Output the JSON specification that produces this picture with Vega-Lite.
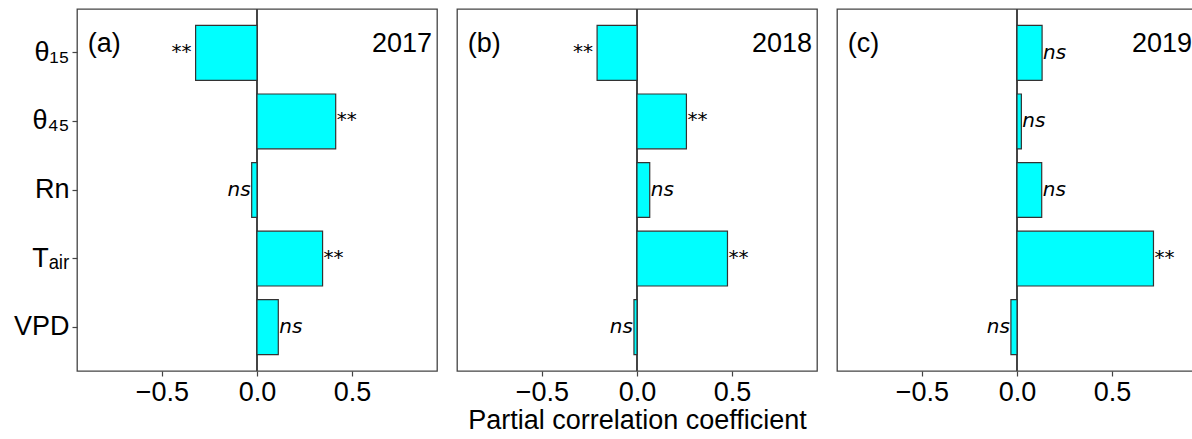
{
  "$schema": "https://vega.github.io/schema/vega-lite/v6.json",
  "padding": {"left": 12, "top": 7, "right": 0, "bottom": 0},
  "background": "white",
  "spacing": 18,
  "config": {
    "view": {"stroke": "#444", "strokeWidth": 1.3},
    "axis": {"labelFont": "Liberation Sans", "titleFont": "Liberation Sans", "labelColor": "black", "titleColor": "black", "titleFontWeight": "normal", "grid": false, "domain": false, "tickColor": "#444", "tickWidth": 1.2},
    "axisX": {"format": ".1f", "labelFontSize": 27, "tickSize": 5, "labelPadding": 3, "titleFontSize": 27, "titlePadding": 2},
    "axisY": {"labelFontSize": 27, "tickSize": 5, "labelPadding": 3},
    "text": {"color": "black"}
  },
  "datasets": {
    "bars": [
      {"year": "2017", "var": "θ₁₅", "value": -0.323, "sig": "**"},
      {"year": "2017", "var": "θ₄₅", "value": 0.414, "sig": "**"},
      {"year": "2017", "var": "Rn", "value": -0.028, "sig": "ns"},
      {"year": "2017", "var": "Tₐᵢᵣ", "value": 0.345, "sig": "**"},
      {"year": "2017", "var": "VPD", "value": 0.112, "sig": "ns"},
      {"year": "2018", "var": "θ₁₅", "value": -0.21, "sig": "**"},
      {"year": "2018", "var": "θ₄₅", "value": 0.26, "sig": "**"},
      {"year": "2018", "var": "Rn", "value": 0.067, "sig": "ns"},
      {"year": "2018", "var": "Tₐᵢᵣ", "value": 0.476, "sig": "**"},
      {"year": "2018", "var": "VPD", "value": -0.016, "sig": "ns"},
      {"year": "2019", "var": "θ₁₅", "value": 0.132, "sig": "ns"},
      {"year": "2019", "var": "θ₄₅", "value": 0.023, "sig": "ns"},
      {"year": "2019", "var": "Rn", "value": 0.13, "sig": "ns"},
      {"year": "2019", "var": "Tₐᵢᵣ", "value": 0.718, "sig": "**"},
      {"year": "2019", "var": "VPD", "value": -0.032, "sig": "ns"}
    ],
    "labels": [
      {"year": "2017", "letter": "(a)"},
      {"year": "2018", "letter": "(b)"},
      {"year": "2019", "letter": "(c)"}
    ]
  },
  "hconcat": [
    {
      "width": 360, "height": 362,
      "data": {"name": "bars"},
      "transform": [{"filter": "datum.year === '2017'"}],
      "encoding": {
        "x": {"type": "quantitative", "scale": {"domain": [-0.947, 0.947], "nice": false, "zero": false}, "axis": {"values": [-0.5, 0, 0.5]}, "title": null},
        "y": {"type": "nominal", "sort": ["θ₁₅", "θ₄₅", "Rn", "Tₐᵢᵣ", "VPD"], "scale": {"paddingInner": 0.2, "paddingOuter": 0.24}, "title": null}
      },
      "layer": [
        {"mark": {"type": "rule", "color": "#444", "strokeWidth": 1.2}, "encoding": {"x": {"datum": 0}}},
        {"mark": {"type": "bar", "fill": "#00FFFF", "stroke": "#333", "strokeWidth": 1.2}, "encoding": {"x": {"field": "value"}, "y": {"field": "var"}}},
        {"transform": [{"filter": "datum.value >= 0 && datum.sig === 'ns'"}], "mark": {"type": "text", "align": "left", "baseline": "middle", "dx": 1, "font": "DejaVu Sans", "fontStyle": "italic", "fontSize": 20}, "encoding": {"x": {"field": "value"}, "y": {"field": "var"}, "text": {"field": "sig"}}},
        {"transform": [{"filter": "datum.value >= 0 && datum.sig === '**'"}], "mark": {"type": "text", "align": "left", "baseline": "middle", "dx": 1, "dy": -1, "font": "DejaVu Sans", "fontSize": 20}, "encoding": {"x": {"field": "value"}, "y": {"field": "var"}, "text": {"field": "sig"}}},
        {"transform": [{"filter": "datum.value < 0 && datum.sig === 'ns'"}], "mark": {"type": "text", "align": "right", "baseline": "middle", "dx": -1, "font": "DejaVu Sans", "fontStyle": "italic", "fontSize": 20}, "encoding": {"x": {"field": "value"}, "y": {"field": "var"}, "text": {"field": "sig"}}},
        {"transform": [{"filter": "datum.value < 0 && datum.sig === '**'"}], "mark": {"type": "text", "align": "right", "baseline": "middle", "dx": -4, "dy": -1, "font": "DejaVu Sans", "fontSize": 20}, "encoding": {"x": {"field": "value"}, "y": {"field": "var"}, "text": {"field": "sig"}}},
        {"data": {"name": "labels"}, "transform": [{"filter": "datum.year === '2017'"}], "mark": {"type": "text", "align": "left", "baseline": "middle", "dy": -9, "font": "Liberation Sans", "fontSize": 27}, "encoding": {"x": {"datum": -0.89}, "y": {"datum": "θ₁₅"}, "text": {"field": "letter"}}},
        {"data": {"name": "labels"}, "transform": [{"filter": "datum.year === '2017'"}], "mark": {"type": "text", "align": "right", "baseline": "middle", "dx": -5, "dy": -9, "font": "Liberation Sans", "fontSize": 27}, "encoding": {"x": {"datum": 0.947}, "y": {"datum": "θ₁₅"}, "text": {"field": "year"}}}
      ]
    },
    {
      "width": 360, "height": 362,
      "data": {"name": "bars"},
      "transform": [{"filter": "datum.year === '2018'"}],
      "encoding": {
        "x": {"type": "quantitative", "scale": {"domain": [-0.947, 0.947], "nice": false, "zero": false}, "axis": {"values": [-0.5, 0, 0.5]}, "title": "Partial correlation coefficient"},
        "y": {"type": "nominal", "sort": ["θ₁₅", "θ₄₅", "Rn", "Tₐᵢᵣ", "VPD"], "scale": {"paddingInner": 0.2, "paddingOuter": 0.24}, "axis": null}
      },
      "layer": [
        {"mark": {"type": "rule", "color": "#444", "strokeWidth": 1.2}, "encoding": {"x": {"datum": 0}}},
        {"mark": {"type": "bar", "fill": "#00FFFF", "stroke": "#333", "strokeWidth": 1.2}, "encoding": {"x": {"field": "value"}, "y": {"field": "var"}}},
        {"transform": [{"filter": "datum.value >= 0 && datum.sig === 'ns'"}], "mark": {"type": "text", "align": "left", "baseline": "middle", "dx": 1, "font": "DejaVu Sans", "fontStyle": "italic", "fontSize": 20}, "encoding": {"x": {"field": "value"}, "y": {"field": "var"}, "text": {"field": "sig"}}},
        {"transform": [{"filter": "datum.value >= 0 && datum.sig === '**'"}], "mark": {"type": "text", "align": "left", "baseline": "middle", "dx": 1, "dy": -1, "font": "DejaVu Sans", "fontSize": 20}, "encoding": {"x": {"field": "value"}, "y": {"field": "var"}, "text": {"field": "sig"}}},
        {"transform": [{"filter": "datum.value < 0 && datum.sig === 'ns'"}], "mark": {"type": "text", "align": "right", "baseline": "middle", "dx": -1, "font": "DejaVu Sans", "fontStyle": "italic", "fontSize": 20}, "encoding": {"x": {"field": "value"}, "y": {"field": "var"}, "text": {"field": "sig"}}},
        {"transform": [{"filter": "datum.value < 0 && datum.sig === '**'"}], "mark": {"type": "text", "align": "right", "baseline": "middle", "dx": -4, "dy": -1, "font": "DejaVu Sans", "fontSize": 20}, "encoding": {"x": {"field": "value"}, "y": {"field": "var"}, "text": {"field": "sig"}}},
        {"data": {"name": "labels"}, "transform": [{"filter": "datum.year === '2018'"}], "mark": {"type": "text", "align": "left", "baseline": "middle", "dy": -9, "font": "Liberation Sans", "fontSize": 27}, "encoding": {"x": {"datum": -0.89}, "y": {"datum": "θ₁₅"}, "text": {"field": "letter"}}},
        {"data": {"name": "labels"}, "transform": [{"filter": "datum.year === '2018'"}], "mark": {"type": "text", "align": "right", "baseline": "middle", "dx": -5, "dy": -9, "font": "Liberation Sans", "fontSize": 27}, "encoding": {"x": {"datum": 0.947}, "y": {"datum": "θ₁₅"}, "text": {"field": "year"}}}
      ]
    },
    {
      "width": 360, "height": 362,
      "data": {"name": "bars"},
      "transform": [{"filter": "datum.year === '2019'"}],
      "encoding": {
        "x": {"type": "quantitative", "scale": {"domain": [-0.947, 0.947], "nice": false, "zero": false}, "axis": {"values": [-0.5, 0, 0.5]}, "title": null},
        "y": {"type": "nominal", "sort": ["θ₁₅", "θ₄₅", "Rn", "Tₐᵢᵣ", "VPD"], "scale": {"paddingInner": 0.2, "paddingOuter": 0.24}, "axis": null}
      },
      "layer": [
        {"mark": {"type": "rule", "color": "#444", "strokeWidth": 1.2}, "encoding": {"x": {"datum": 0}}},
        {"mark": {"type": "bar", "fill": "#00FFFF", "stroke": "#333", "strokeWidth": 1.2}, "encoding": {"x": {"field": "value"}, "y": {"field": "var"}}},
        {"transform": [{"filter": "datum.value >= 0 && datum.sig === 'ns'"}], "mark": {"type": "text", "align": "left", "baseline": "middle", "dx": 1, "font": "DejaVu Sans", "fontStyle": "italic", "fontSize": 20}, "encoding": {"x": {"field": "value"}, "y": {"field": "var"}, "text": {"field": "sig"}}},
        {"transform": [{"filter": "datum.value >= 0 && datum.sig === '**'"}], "mark": {"type": "text", "align": "left", "baseline": "middle", "dx": 1, "dy": -1, "font": "DejaVu Sans", "fontSize": 20}, "encoding": {"x": {"field": "value"}, "y": {"field": "var"}, "text": {"field": "sig"}}},
        {"transform": [{"filter": "datum.value < 0 && datum.sig === 'ns'"}], "mark": {"type": "text", "align": "right", "baseline": "middle", "dx": -1, "font": "DejaVu Sans", "fontStyle": "italic", "fontSize": 20}, "encoding": {"x": {"field": "value"}, "y": {"field": "var"}, "text": {"field": "sig"}}},
        {"transform": [{"filter": "datum.value < 0 && datum.sig === '**'"}], "mark": {"type": "text", "align": "right", "baseline": "middle", "dx": -4, "dy": -1, "font": "DejaVu Sans", "fontSize": 20}, "encoding": {"x": {"field": "value"}, "y": {"field": "var"}, "text": {"field": "sig"}}},
        {"data": {"name": "labels"}, "transform": [{"filter": "datum.year === '2019'"}], "mark": {"type": "text", "align": "left", "baseline": "middle", "dy": -9, "font": "Liberation Sans", "fontSize": 27}, "encoding": {"x": {"datum": -0.89}, "y": {"datum": "θ₁₅"}, "text": {"field": "letter"}}},
        {"data": {"name": "labels"}, "transform": [{"filter": "datum.year === '2019'"}], "mark": {"type": "text", "align": "right", "baseline": "middle", "dx": -5, "dy": -9, "font": "Liberation Sans", "fontSize": 27}, "encoding": {"x": {"datum": 0.947}, "y": {"datum": "θ₁₅"}, "text": {"field": "year"}}}
      ]
    }
  ]
}
